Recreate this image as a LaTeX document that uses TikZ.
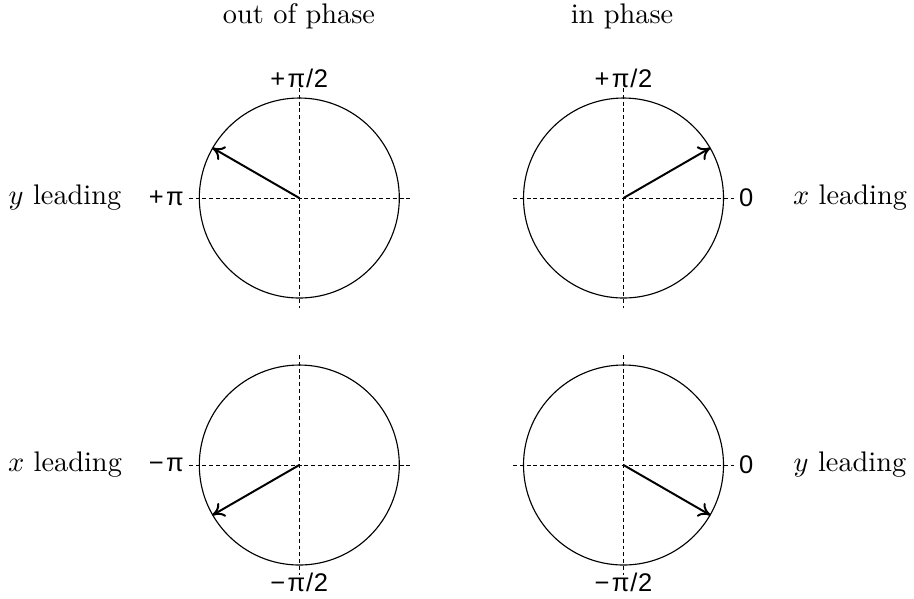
\documentclass[tikz,border=0pt]{standalone}
\usepackage{fontspec}
\usetikzlibrary{arrows.meta}
\newfontfamily\labfont{Liberation Sans}
\newcommand{\pls}{+\kern0.8pt}
\newcommand{\mns}{−\kern0.8pt}
\newcommand{\hlf}{\kern0.3pt/\kern0.3pt2}
\begin{document}
\begin{tikzpicture}[x=0.3528pt,y=-0.3528pt,
  ring/.style={draw,circle,minimum size=200*0.3528pt,inner sep=0pt,line width=0.4pt},
  axis/.style={line width=0.3pt,dash pattern=on 1.4pt off 1pt},
  phasor/.style={-{To[length=4.2pt,width=5.5pt]},line width=0.7pt},
  anglab/.style={font=\labfont\fontsize{9}{10}\selectfont,inner sep=1.6pt},
  side/.style={font=\normalsize},
  head/.style={font=\normalsize}]
\useasboundingbox (0,0) rectangle (914,598);
% circles
\node[ring] (c1) at (299.3,198) {};
\node[ring] (c2) at (623.5,198) {};
\node[ring] (c3) at (299.3,465) {};
\node[ring] (c4) at (623.5,465) {};
\coordinate (o1) at (c1.center);
\coordinate (o2) at (c2.center);
\coordinate (o3) at (c3.center);
\coordinate (o4) at (c4.center);
% axes
\foreach \c in {1,2,3,4}{
  \coordinate (l\c) at ([xshift=-110.5*0.3528pt]o\c);
  \coordinate (r\c) at ([xshift=110.5*0.3528pt]o\c);
  \coordinate (t\c) at ([yshift=110*0.3528pt]o\c);
  \coordinate (b\c) at ([yshift=-110*0.3528pt]o\c);
  \draw[axis] (l\c) -- (r\c);
  \draw[axis] (t\c) -- (b\c);
}
% phasors
\draw[phasor] (o1) -- (c1.150);
\draw[phasor] (o2) -- (c2.30);
\draw[phasor] (o3) -- (c3.210);
\draw[phasor] (o4) -- (c4.-30);
% angle labels
\node[anglab,anchor=base] (p1) at ([yshift=0.5*0.3528pt]t1) {\pls π\hlf};
\node[anglab,anchor=base] (p2) at ([yshift=0.5*0.3528pt]t2) {\pls π\hlf};
\node[anglab,anchor=east] (p3) at (l1) {\pls π};
\node[anglab,anchor=west] (p4) at (r2) {0};
\node[anglab,anchor=east] (p5) at (l3) {\mns π};
\node[anglab,anchor=west] (p6) at (r4) {0};
\node[anglab,anchor=base] (p7) at ([yshift=-16*0.3528pt]b3) {\mns π\hlf};
\node[anglab,anchor=base] (p8) at ([yshift=-16*0.3528pt]b4) {\mns π\hlf};
% side labels
\node[side] (s1) at (65,198) {$y$ leading};
\node[side] (s2) at (850,198) {$x$ leading};
\node[side] (s3) at (65,465) {$x$ leading};
\node[side] (s4) at (850,465) {$y$ leading};
% headers
\node[head] (h1) at (299,16) {out of phase};
\node[head] (h2) at (622,16) {in phase};
\end{tikzpicture}
\end{document}
